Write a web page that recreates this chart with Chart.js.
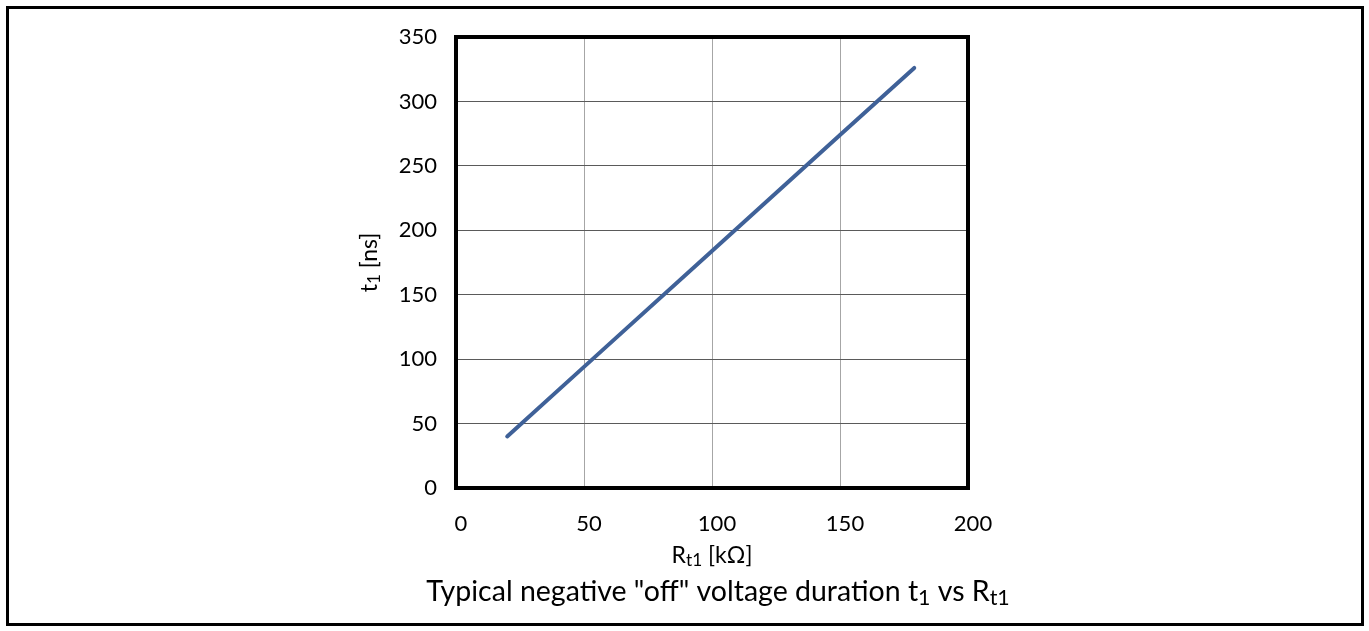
<!DOCTYPE html>
<html>
<head>
<meta charset="utf-8">
<script src="https://cdn.jsdelivr.net/npm/chart.js@4.4.1/dist/chart.umd.min.js"></script>
<style>
  body { margin: 0; background: #fff; }
  #marco { position: absolute; left: 6px; top: 6px; width: 1358px; height: 620px; border: 3px solid #000; box-sizing: border-box; }
  #grafico_wrap { position: absolute; left: 0; top: 0; width: 1369px; height: 631px; }
</style>
</head>
<body>
<div id="marco"></div>
<div id="grafico_wrap"><canvas id="grafico_t1"></canvas></div>
<script>
// valores
var resistencia_kohm = [20, 50, 100, 150, 179]
var duracao_ns = [40, 94, 184, 274, 326]
var ticks_x = [0, 50, 100, 150, 200]
var ticks_y = [0, 50, 100, 150, 200, 250, 300, 350]

// textos com subscrito (cada parte: texto, subscrito?)
var titulo_x = [['R', false], ['t1', true], [' [k\u03A9]', false]]
var titulo_y = [['t', false], ['1', true], [' [ns]', false]]
var titulo_grafico = [['Typical negative "off" voltage duration t', false], ['1', true], [' vs R', false], ['t1', true]]

var fonte = "Lato, 'Noto Sans', sans-serif"

var pontos = []
for (var n = 0; n < resistencia_kohm.length; n++) {
    pontos.push({ x: resistencia_kohm[n], y: duracao_ns[n] })
}

function desenhar_rico(ctx, partes, cx, baseline, tamanho) {
    var total = 0
    for (var i = 0; i < partes.length; i++) {
        ctx.font = (partes[i][1] ? tamanho * 0.75 : tamanho) + 'px ' + fonte
        total += ctx.measureText(partes[i][0]).width
    }
    var x = cx - total / 2
    ctx.textAlign = 'left'
    ctx.textBaseline = 'alphabetic'
    ctx.fillStyle = '#000'
    for (var j = 0; j < partes.length; j++) {
        var sub = partes[j][1]
        ctx.font = (sub ? tamanho * 0.75 : tamanho) + 'px ' + fonte
        ctx.fillText(partes[j][0], x, baseline + (sub ? tamanho * 0.13 : 0))
        x += ctx.measureText(partes[j][0]).width
    }
}

// moldura grossa em volta da area do grafico + titulos
var moldura_area = {
    id: 'moldura_area',
    afterDraw: function (chart) {
        var a = chart.chartArea
        var ctx = chart.ctx
        ctx.save()
        ctx.strokeStyle = '#000'
        ctx.lineWidth = 4
        ctx.strokeRect(a.left, a.top, a.right - a.left, a.bottom - a.top)

        var meio = (a.left + a.right) / 2
        desenhar_rico(ctx, titulo_x, meio, a.bottom + 75, 23)
        desenhar_rico(ctx, titulo_grafico, meio + 6, a.bottom + 113, 28.5)

        ctx.translate(a.left - 79, (a.top + a.bottom) / 2)
        ctx.rotate(-Math.PI / 2)
        desenhar_rico(ctx, titulo_y, 0, 0, 23)
        ctx.restore()
    }
}

var contexto = document.getElementById('grafico_t1').getContext('2d')
var myChart_t1 = new Chart(contexto, {
    type: 'scatter',
    data: {
        datasets: [{
            data: pontos,
            showLine: true,
            borderColor: '#3f6198',
            borderWidth: 4,
            borderCapStyle: 'round',
            pointRadius: 0,
            tension: 0
        }]
    },
    options: {
        responsive: true,
        maintainAspectRatio: false,
        animation: false,
        layout: { padding: { left: 358, right: 401, top: 37, bottom: 0 } },
        plugins: {
            legend: { display: false },
            tooltip: { enabled: false },
            title: { display: false }
        },
        scales: {
            x: {
                type: 'linear',
                min: 0,
                max: 200,
                afterBuildTicks: function (escala) {
                    escala.ticks = ticks_x.map(function (v) { return { value: v } })
                },
                afterFit: function (escala) { escala.height = 143 },
                border: { display: false },
                grid: { color: '#a6a6a6', lineWidth: 1, drawTicks: false },
                ticks: { color: '#000', font: { family: fonte, size: 22 }, padding: 23, labelOffset: 5, maxRotation: 0 }
            },
            y: {
                type: 'linear',
                min: 0,
                max: 350,
                afterBuildTicks: function (escala) {
                    escala.ticks = ticks_y.map(function (v) { return { value: v } })
                },
                afterFit: function (escala) { escala.width = 98 },
                border: { display: false },
                grid: { color: '#5a5a5a', lineWidth: 1, drawTicks: false },
                ticks: { color: '#000', font: { family: fonte, size: 22 }, padding: 19 }
            }
        }
    },
    plugins: [moldura_area]
})
</script>
</body>
</html>
